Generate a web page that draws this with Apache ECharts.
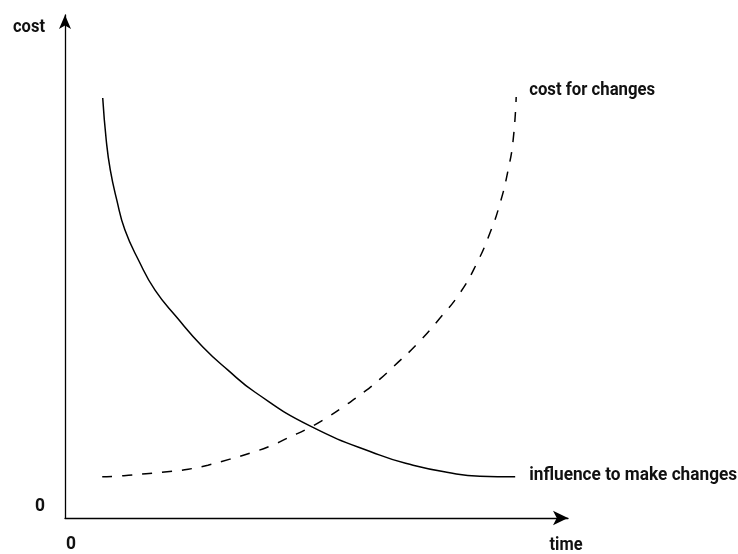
<!DOCTYPE html>
<html>
<head>
<meta charset="utf-8">
<script src="https://cdn.jsdelivr.net/npm/echarts@6/dist/echarts.min.js"></script>
<style>html,body{margin:0;padding:0;background:#fff}#c{width:738px;height:554px}</style>
</head>
<body>
<div id="c"></div>
<script>
// influence to make changes (solid)
const influenceX = [7.5, 8.2, 9.0, 10.3, 11.9, 14.7, 17.9, 22.3, 27.4, 32.4, 37.8, 48.7, 62.6, 69.2, 75.9, 82.5, 89.5];
const influenceY = [83.5, 75.1, 69.2, 63.2, 57.3, 51.1, 45.3, 39.8, 34.0, 29.4, 25.0, 18.3, 12.5, 10.5, 9.1, 8.3, 8.2];
// cost for changes (dashed)
const costX = [7.4, 11.7, 16.1, 20.3, 24.5, 28.4, 32.8, 36.8, 40.8, 44.7, 48.5, 52.3, 55.9, 59.4, 62.6, 65.2, 70.0, 74.6, 78.5, 81.9, 84.5, 86.5, 88.1, 89.1, 89.7];
const costY = [8.2, 8.4, 8.8, 9.2, 9.7, 10.5, 11.7, 12.9, 14.3, 16.1, 17.9, 20.1, 22.5, 25.0, 27.6, 30.0, 34.6, 39.8, 44.7, 50.7, 56.7, 62.6, 69.2, 75.2, 83.7];
const seriesNames = ['influence to make changes', 'cost for changes'];
const yAxisName = 'cost';
const xAxisName = 'time';
const originLabels = ['0', '0'];

const FONT = 'bold 19px Roboto, sans-serif';
const ctx = document.createElement('canvas').getContext('2d');
ctx.font = FONT;
const fit = (t, w) => w / ctx.measureText(t).width;

const txt = (t, x, y, align, w) => ({
  type: 'text', x: x, y: y, scaleX: fit(t, w),
  style: { text: t, font: FONT, fill: '#111', align: align || 'center', verticalAlign: 'middle' }
});

const chart = echarts.init(document.getElementById('c'));
const solidData = influenceX.map((x, i) => [x, influenceY[i]]);
const dashData = costX.map((x, i) => [x, costY[i]]);
chart.setOption({
  animation: false,
  grid: { left: 65, right: 170, top: 15, bottom: 36 },
  xAxis: {
    type: 'value', min: 0, max: 100,
    axisLine: { show: true, symbol: ['none', 'arrow'], symbolSize: [11, 15], lineStyle: { color: '#000', width: 1.3 } },
    axisTick: { show: false }, axisLabel: { show: false }, splitLine: { show: false }
  },
  yAxis: {
    type: 'value', min: 0, max: 100,
    axisLine: { show: true, symbol: ['none', 'arrow'], symbolSize: [9, 14], lineStyle: { color: '#000', width: 1.3 } },
    axisTick: { show: false }, axisLabel: { show: false }, splitLine: { show: false }
  },
  series: [
    {
      name: seriesNames[0], type: 'line', smooth: 0.5, symbol: 'none',
      data: solidData,
      lineStyle: { color: '#000', width: 1.5 }
    },
    {
      name: seriesNames[1], type: 'line', smooth: 0.5, symbol: 'none',
      data: dashData,
      lineStyle: { color: '#000', width: 1.5, type: [10, 10] }
    }
  ]
});
const endSolid = chart.convertToPixel({ seriesIndex: 0 }, solidData[solidData.length - 1]);
const endDash = chart.convertToPixel({ seriesIndex: 1 }, dashData[dashData.length - 1]);
chart.setOption({
  graphic: [
    txt(yAxisName, 29, 27, 'center', 32),
    txt(xAxisName, 566, 545, 'center', 33),
    txt(originLabels[0], 40, 506, 'center', 10),
    txt(originLabels[1], 71, 544, 'center', 10),
    txt(seriesNames[0], endSolid[0] + 14, endSolid[1] - 2, 'left', 208),
    txt(seriesNames[1], endDash[0] + 13, endDash[1] - 7, 'left', 126)
  ]
});
</script>
</body>
</html>
